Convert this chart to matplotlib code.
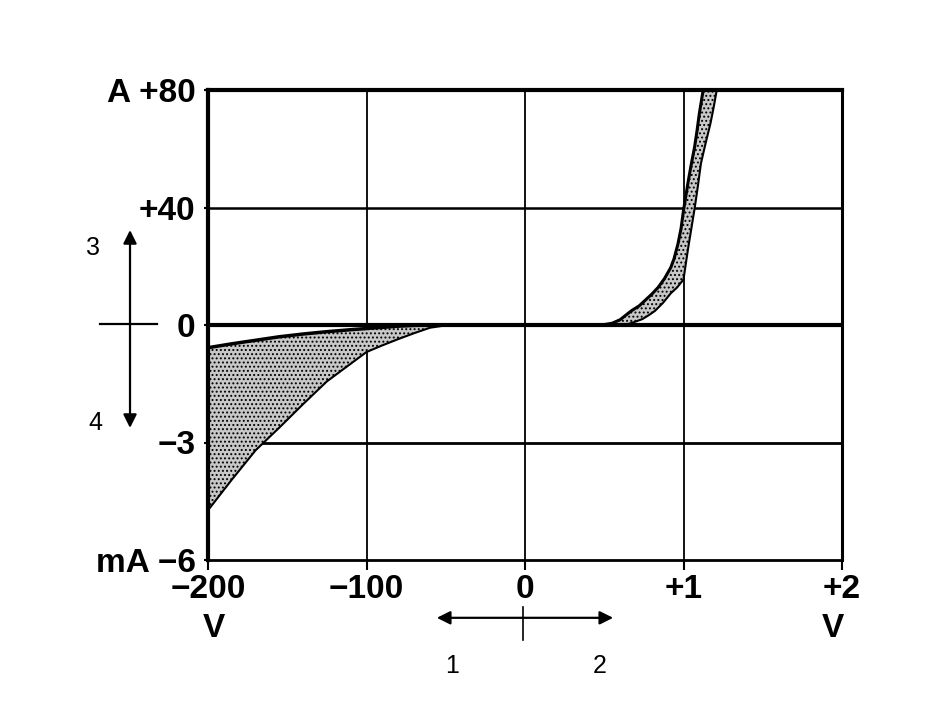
import matplotlib
matplotlib.use("Agg")
import matplotlib.pyplot as plt
import numpy as np

plt.rcParams['font.family'] = ['Liberation Sans', 'DejaVu Sans']
plt.rcParams['hatch.linewidth'] = 0.9

# reverse region: voltage in V, current in mA
v_rev = [-200, -185, -170, -155, -140, -125, -110, -100, -90, -80, -70, -60, -50]
i_rev_low = [-4.73, -3.95, -3.2, -2.62, -2.02, -1.44, -0.99, -0.69, -0.52, -0.36, -0.21, -0.07, -0.01]
i_rev_high = [-0.58, -0.48, -0.39, -0.30, -0.23, -0.17, -0.12, -0.09, -0.06, -0.03, -0.01, 0.0, 0.0]

# forward region: voltage in V, current in A
v_fwd_left = [0.45, 0.50, 0.55, 0.60, 0.67, 0.72, 0.76, 0.80, 0.84, 0.88, 0.92, 0.94,
              0.965, 0.985, 1.0, 1.015, 1.03, 1.05, 1.07, 1.085, 1.10, 1.124]
i_fwd_left = [0.0, 0.15, 0.6, 1.8, 4.8, 6.5, 8.5, 10.5, 12.8, 15.8, 19.6, 22.5,
              27.6, 33.0, 39.0, 44.0, 49.0, 55.0, 60.6, 66.0, 72.0, 80.0]
v_fwd_right = [0.55, 0.60, 0.65, 0.70, 0.74, 0.78, 0.82, 0.87, 0.92, 0.96, 1.0,
               1.015, 1.03, 1.05, 1.07, 1.09, 1.11, 1.14, 1.17, 1.19, 1.21]
i_fwd_right = [0.0, 0.1, 0.3, 1.2, 2.0, 3.3, 4.8, 7.5, 10.8, 12.8, 15.5,
               21.0, 26.4, 33.0, 39.6, 47.0, 55.0, 62.0, 68.6, 74.0, 80.0]

xticks = [-200, -100, 0, 1, 2]
xlabels = ['\u2212200', '\u2212100', '0', '+1', '+2']
yticks = [-6, -3, 0, 40, 80]
ylabels = ['mA \u22126', '\u22123', '0', '+40', 'A +80']


# piecewise scales: -200..0 V and 0..2 V share the width, mA below 0 and A above
def fx(v):
    v = np.asarray(v, dtype=float)
    return np.where(v < 0, v / 100.0, v)


def fx_inv(u):
    u = np.asarray(u, dtype=float)
    return np.where(u < 0, u * 100.0, u)


def fy(v):
    v = np.asarray(v, dtype=float)
    return np.where(v < 0, v / 3.0, v / 40.0)


def fy_inv(u):
    u = np.asarray(u, dtype=float)
    return np.where(u < 0, u * 3.0, u * 40.0)


fig = plt.figure(figsize=(9.42, 7.09), dpi=100)
ax = fig.add_axes([208 / 942, 1 - 560 / 709, 634 / 942, 470 / 709])
ax.set_xscale('function', functions=(fx, fx_inv))
ax.set_yscale('function', functions=(fy, fy_inv))
ax.set_xlim(-200, 2)
ax.set_ylim(-6, 80)

# grid
for v in [-100, 0, 1]:
    ax.axvline(v, color='black', lw=1.3, zorder=1)
ax.axhline(-3, color='black', lw=2, zorder=1)
ax.axhline(40, color='black', lw=1.8, zorder=1)
ax.axhline(0, color='black', lw=3, zorder=3)

# bands
ax.fill_between(v_rev, i_rev_low, i_rev_high, facecolor='#c8c8c8', edgecolor='black',
                hatch='....', linewidth=0, zorder=2)
ax.plot(v_rev, i_rev_low, color='black', lw=1.5, zorder=3)
ax.plot(v_rev, i_rev_high, color='black', lw=2.5, zorder=3)

xs = np.concatenate([v_fwd_left, v_fwd_right[::-1]])
ys = np.concatenate([i_fwd_left, i_fwd_right[::-1]])
ax.fill(xs, ys, facecolor='#c8c8c8', edgecolor='black', hatch='....', linewidth=0, zorder=2)
ax.plot(v_fwd_left, i_fwd_left, color='black', lw=2.2, zorder=3)
ax.plot(v_fwd_right, i_fwd_right, color='black', lw=1.5, zorder=3)

for side, lw in [('left', 3), ('top', 3), ('right', 2.2), ('bottom', 2)]:
    ax.spines[side].set_linewidth(lw)

ax.set_xticks(xticks)
ax.set_xticklabels(xlabels, fontsize=24, fontweight='bold')
ax.set_yticks(yticks)
ax.set_yticklabels(ylabels, fontsize=24, fontweight='bold')
ax.tick_params(axis='x', direction='out', length=7, width=1.5, pad=3)
ax.tick_params(axis='y', direction='out', length=3, width=1.5, pad=6)
ax.minorticks_off()

ax.text(0.01, -0.145, 'V', transform=ax.transAxes, ha='center', va='center',
        fontsize=24, fontweight='bold')
ax.text(0.985, -0.145, 'V', transform=ax.transAxes, ha='center', va='center',
        fontsize=24, fontweight='bold')

# direction arrows
arrow = dict(arrowstyle='<|-|>', color='black', lw=1.6, mutation_scale=20,
             shrinkA=0, shrinkB=0)
ax.annotate('', xy=(0.361, -0.123), xytext=(0.639, -0.123), xycoords='axes fraction',
            arrowprops=arrow, annotation_clip=False)
ax.annotate('', xy=(-0.123, 0.702), xytext=(-0.123, 0.281), xycoords='axes fraction',
            arrowprops=arrow, annotation_clip=False)
ax.plot([0.497, 0.497], [-0.100, -0.170], transform=ax.transAxes, color='black',
        lw=1.2, clip_on=False)
ax.plot([-0.170, -0.080], [0.502, 0.502], transform=ax.transAxes, color='black',
        lw=1.6, clip_on=False)

for label, x, y in [('1', 0.385, -0.225), ('2', 0.618, -0.225),
                    ('3', -0.181, 0.664), ('4', -0.177, 0.291)]:
    ax.text(x, y, label, transform=ax.transAxes, ha='center', va='center', fontsize=18)

fig.savefig('out.png', dpi=100)
